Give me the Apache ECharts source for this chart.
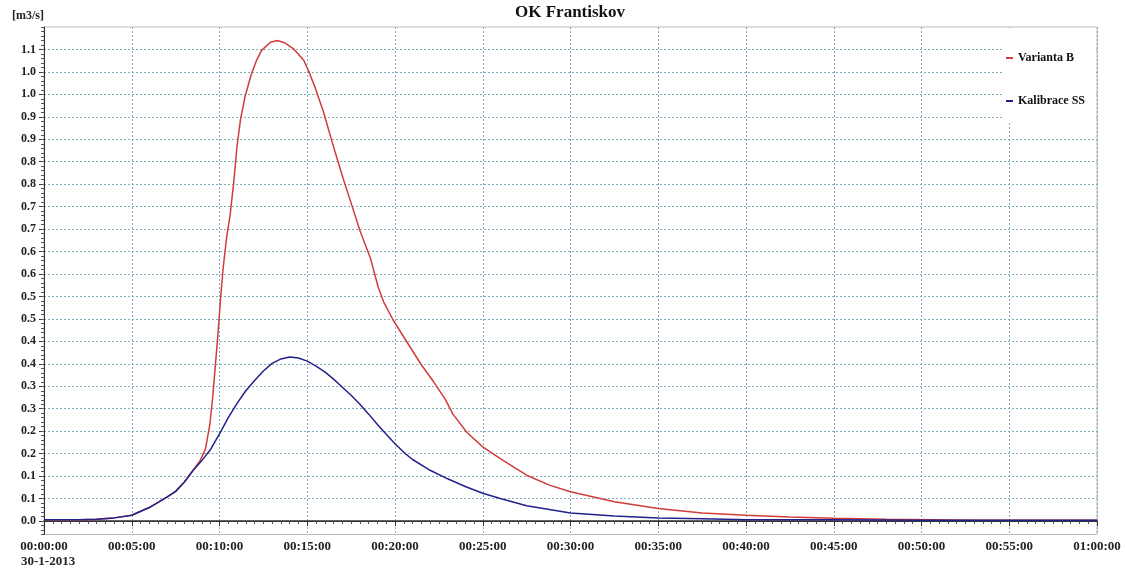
<!DOCTYPE html>
<html>
<head>
<meta charset="utf-8">
<title>OK Frantiskov</title>
<script src="https://cdn.jsdelivr.net/npm/echarts@6/dist/echarts.min.js"></script>
<style>
html, body { margin: 0; padding: 0; background: #fff; }
#chartFlow { width: 1125px; height: 569px; }
</style>
</head>
<body>
<div id="chartFlow"></div>
<script>
// 时间（分钟）与流量 [m3/s]
const redTimes = [0, 2, 3, 4, 5, 6, 7, 7.5, 8, 8.5, 8.9, 9.2, 9.45, 9.6, 9.75, 9.9, 10.05, 10.2, 10.4, 10.6, 10.8, 11, 11.2, 11.45, 11.8, 12.1, 12.4, 12.9, 13.3, 13.7, 14.2, 14.8, 15.1, 15.45, 15.9, 16.5, 17.05, 17.45, 18, 18.6, 19.05, 19.35, 19.9, 20.85, 21.5, 22.2, 22.85, 23.3, 24.1, 25, 26, 27.5, 28.8, 30, 32.5, 35, 37.5, 40, 42.5, 45, 48, 53, 60];
const redValues = [0.003, 0.003, 0.004, 0.007, 0.013, 0.03, 0.053, 0.066, 0.087, 0.113, 0.135, 0.16, 0.215, 0.27, 0.34, 0.41, 0.49, 0.56, 0.63, 0.68, 0.75, 0.835, 0.895, 0.944, 0.993, 1.025, 1.048, 1.066, 1.07, 1.065, 1.052, 1.026, 1.0, 0.965, 0.914, 0.833, 0.762, 0.714, 0.647, 0.585, 0.52, 0.488, 0.447, 0.388, 0.348, 0.31, 0.272, 0.238, 0.197, 0.165, 0.139, 0.102, 0.08, 0.065, 0.043, 0.028, 0.018, 0.013, 0.009, 0.006, 0.004, 0.002, 0.002];

const blueTimes = [0, 2, 3, 4, 5, 6, 7, 7.5, 8, 8.5, 9, 9.5, 10, 10.5, 11, 11.5, 12, 12.5, 13, 13.5, 14, 14.5, 15, 15.5, 16, 16.5, 17, 17.5, 18, 18.5, 19, 19.5, 20, 20.5, 21, 22, 23, 24, 25, 26, 27.5, 30, 32.5, 35, 37.5, 40, 45, 50, 55, 60];
const blueValues = [0.003, 0.003, 0.004, 0.007, 0.013, 0.03, 0.053, 0.066, 0.087, 0.113, 0.135, 0.16, 0.194, 0.23, 0.262, 0.29, 0.313, 0.334, 0.351, 0.361, 0.365, 0.363, 0.356, 0.345, 0.332, 0.316, 0.298, 0.28, 0.26, 0.238, 0.215, 0.193, 0.172, 0.153, 0.137, 0.113, 0.094, 0.077, 0.062, 0.05, 0.034, 0.018, 0.011, 0.007, 0.005, 0.003, 0.003, 0.002, 0.002, 0.002];

const seriesNames = ['Varianta B', 'Kalibrace SS'];

// 刻度
const yTickValues = [0, 0.05, 0.1, 0.15, 0.2, 0.25, 0.3, 0.35, 0.4, 0.45, 0.5, 0.55, 0.6, 0.65, 0.7, 0.75, 0.8, 0.85, 0.9, 0.95, 1.0, 1.05];
const yTickLabels = ['0.0', '0.1', '0.1', '0.2', '0.2', '0.3', '0.3', '0.4', '0.4', '0.5', '0.5', '0.6', '0.6', '0.7', '0.7', '0.8', '0.8', '0.9', '0.9', '1.0', '1.0', '1.1'];
const xTickLabels = ['00:00:00', '00:05:00', '00:10:00', '00:15:00', '00:20:00', '00:25:00', '00:30:00', '00:35:00', '00:40:00', '00:45:00', '00:50:00', '00:55:00', '01:00:00'];
const dateLabel = '30-1-2013';

const serif = '"Liberation Serif", "Times New Roman", serif';
const gridLine = { type: [2, 2], color: '#80abbb', width: 1 };

let chartFlow = echarts.init(document.getElementById('chartFlow'));
let option = {
  backgroundColor: '#fff',
  animation: false,
  title: {
    text: 'OK Frantiskov',
    left: 515,
    top: 4,
    padding: 0,
    textStyle: { fontFamily: serif, fontWeight: 'bold', fontSize: 17, color: '#111' }
  },
  grid: {
    left: 44,
    right: 28,
    top: 27,
    bottom: 34.5,
    show: true,
    borderColor: '#bbb',
    borderWidth: 1,
    outerBoundsMode: 'none'
  },
  legend: {
    data: seriesNames,
    orient: 'vertical',
    left: 1003,
    top: 28,
    padding: [24, 10, 14, 3],
    itemGap: 31,
    itemWidth: 7,
    itemHeight: 2,
    icon: 'rect',
    backgroundColor: '#fff',
    textStyle: { fontFamily: serif, fontWeight: 'bold', fontSize: 12, color: '#111' }
  },
  graphic: [{
    type: 'text',
    left: 21,
    top: 555,
    style: { text: dateLabel, font: 'bold 13px ' + serif, fill: '#222' }
  }],
  xAxis: [
    {
      type: 'value',
      min: 0,
      max: 60,
      interval: 5,
      position: 'bottom',
      axisLine: { show: true, lineStyle: { color: '#333' } },
      axisTick: { show: true, length: 5, lineStyle: { color: '#333' } },
      minorTick: { show: true, splitNumber: 10, length: 3, lineStyle: { color: '#555' } },
      axisLabel: {
        formatter: v => xTickLabels[Math.round(v / 5)],
        margin: 6,
        fontFamily: serif,
        fontWeight: 'bold',
        fontSize: 13,
        color: '#222'
      },
      splitLine: { show: true, lineStyle: gridLine }
    },
    {
      type: 'value',
      min: 0,
      max: 60,
      position: 'top',
      axisLine: { show: true, lineStyle: { color: '#333', width: 1.5 } },
      axisTick: { show: false },
      axisLabel: { show: false },
      splitLine: { show: false }
    }
  ],
  yAxis: [
    {
      type: 'value',
      min: -0.03,
      max: 1.1,
      position: 'left',
      name: '[m3/s]',
      nameLocation: 'end',
      nameGap: 5,
      nameTextStyle: { align: 'right', verticalAlign: 'bottom', fontFamily: serif, fontWeight: 'bold', fontSize: 12, color: '#222' },
      axisLine: { show: true, lineStyle: { color: '#333' } },
      axisTick: { show: true, length: 5, customValues: yTickValues, lineStyle: { color: '#333' } },
      axisLabel: {
        customValues: yTickValues,
        formatter: v => yTickLabels[Math.round(v * 20)],
        margin: 8,
        fontFamily: serif,
        fontWeight: 'bold',
        fontSize: 12,
        color: '#222'
      },
      splitLine: { show: true, lineStyle: gridLine }
    },
    {
      // 细刻度
      type: 'value',
      min: -0.03,
      max: 1.1,
      interval: 0.01,
      position: 'left',
      axisLine: { show: false },
      axisTick: { show: true, length: 3, lineStyle: { color: '#555' } },
      axisLabel: { show: false },
      splitLine: { show: false }
    }
  ],
  series: [
    {
      name: seriesNames[0],
      type: 'line',
      symbol: 'none',
      smooth: false,
      color: '#d03c3c',
      lineStyle: { color: '#d03c3c', width: 1.5 },
      data: redTimes.map((t, i) => [t, redValues[i]])
    },
    {
      name: seriesNames[1],
      type: 'line',
      symbol: 'none',
      smooth: false,
      color: '#22228c',
      lineStyle: { color: '#22228c', width: 1.5 },
      data: blueTimes.map((t, i) => [t, blueValues[i]])
    }
  ]
};
chartFlow.setOption(option);
</script>
</body>
</html>
